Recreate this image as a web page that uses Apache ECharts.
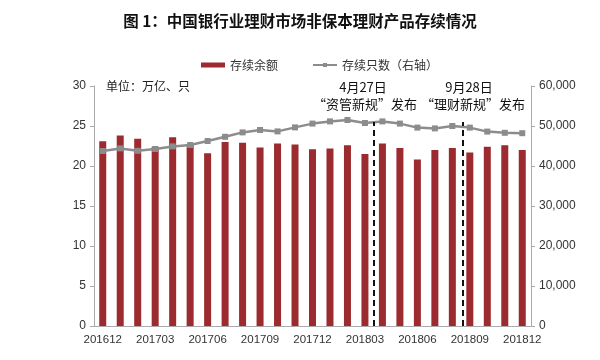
<!DOCTYPE html>
<html><head><meta charset="utf-8">
<script src="https://cdn.jsdelivr.net/npm/echarts@6/dist/echarts.min.js"></script>
<style>html,body{margin:0;padding:0;background:#fff}#c{width:600px;height:360px}</style>
</head><body><div id="c"></div>
<script>
const categories = ['201612','201701','201702','201703','201704','201705','201706','201707','201708','201709','201710','201711','201712','201801','201802','201803','201804','201805','201806','201807','201808','201809','201810','201811','201812'];
const balance = [23.1,23.8,23.4,22.4,23.6,22.7,21.6,23.0,22.9,22.3,22.8,22.7,22.1,22.2,22.6,21.5,22.8,22.25,20.8,22.0,22.25,21.7,22.4,22.6,22.0];
const counts = [43750,44400,43800,44250,44900,45250,46250,47300,48400,49000,48650,49650,50600,51150,51500,50750,51150,50600,49600,49400,50000,49600,48600,48300,48200];
const leftTicks = [0,30,5];
const rightTicks = [0,60000,10000];
const eventPositions = [16, 21.1];
const eventTop = 25.5;
const eventDates = ['4月27日', '9月28日'];
const eventNames = ['\u201c资管新规\u201d发布', '\u201c理财新规\u201d发布'];

const font = '"Noto Sans CJK SC", "Liberation Sans", sans-serif';
const numFont = '"Liberation Sans", Arial, sans-serif';
const chart = echarts.init(document.getElementById('c'), null, {renderer:'canvas'});
const txt = (s, x, y, size) => ({type:'text', x:x, y:y, silent:true,
  style:{text:s, fontFamily:font, fontSize:size, fill:'#111', align:'center', verticalAlign:'middle'}});
chart.setOption({
  animation:false,
  title:{text:'图 1：中国银行业理财市场非保本理财产品存续情况', left:'center', top:8,
    textStyle:{fontFamily:font, fontSize:15.5, fontWeight:'bold', color:'#111'}},
  legend:{top:54, left:196, itemGap:34, textStyle:{fontFamily:font, fontSize:12, color:'#333'},
    data:[{name:'存续余额', icon:'rect', itemStyle:{color:'#9b2b2e'}},
          {name:'存续只数（右轴）'}], itemWidth:24, itemHeight:5},
  grid:{left:94, right:69, top:86, bottom:34},
  xAxis:[{type:'category', data:categories, boundaryGap:true,
    axisLine:{lineStyle:{color:'#aaa'}},
    axisTick:{interval:2, length:4, lineStyle:{color:'#aaa'}},
    axisLabel:{interval:2, color:'#333', fontSize:11.5, fontFamily:numFont, margin:8}},
    {type:'value', min:0, max:categories.length, show:false}],
  yAxis:[{type:'value', min:leftTicks[0], max:leftTicks[1], interval:leftTicks[2],
      axisLine:{show:true, lineStyle:{color:'#aaa'}}, axisTick:{show:true, length:4, lineStyle:{color:'#aaa'}},
      splitLine:{show:false}, axisLabel:{color:'#333', fontSize:12, fontFamily:numFont, margin:8}},
    {type:'value', min:rightTicks[0], max:rightTicks[1], interval:rightTicks[2],
      axisLine:{show:true, lineStyle:{color:'#aaa'}}, axisTick:{show:true, length:4, lineStyle:{color:'#aaa'}},
      splitLine:{show:false}, axisLabel:{color:'#333', fontSize:12, fontFamily:numFont, margin:8,
        formatter:v=>v.toLocaleString('en-US')}}],
  series:[
    {name:'存续余额', type:'bar', data:balance, barWidth:7, itemStyle:{color:'#9b2b2e'}, z:2},
    {name:'存续只数（右轴）', type:'line', yAxisIndex:1, data:counts, symbol:'rect', symbolSize:6,
      lineStyle:{color:'#8c8c8c', width:2.5}, itemStyle:{color:'#8c8c8c'}, z:3},
    {name:'events', type:'line', xAxisIndex:1, yAxisIndex:0, data:[], silent:true,
      markLine:{symbol:'none', silent:true, label:{show:false},
        lineStyle:{color:'#111', type:[6,4], width:2},
        data:eventPositions.map(p=>[{coord:[p,0]},{coord:[p,eventTop]}])}, z:4}
  ],
  graphic:[
    txt(eventDates[0], 363, 87, 13), txt(eventNames[0], 365, 104, 13),
    txt(eventDates[1], 469, 87, 13), txt(eventNames[1], 473, 104, 13),
    {type:'text', left:106, top:80, style:{text:'单位：万亿、只', fontFamily:font, fontSize:12, fill:'#222'}}
  ]
});
</script></body></html>
